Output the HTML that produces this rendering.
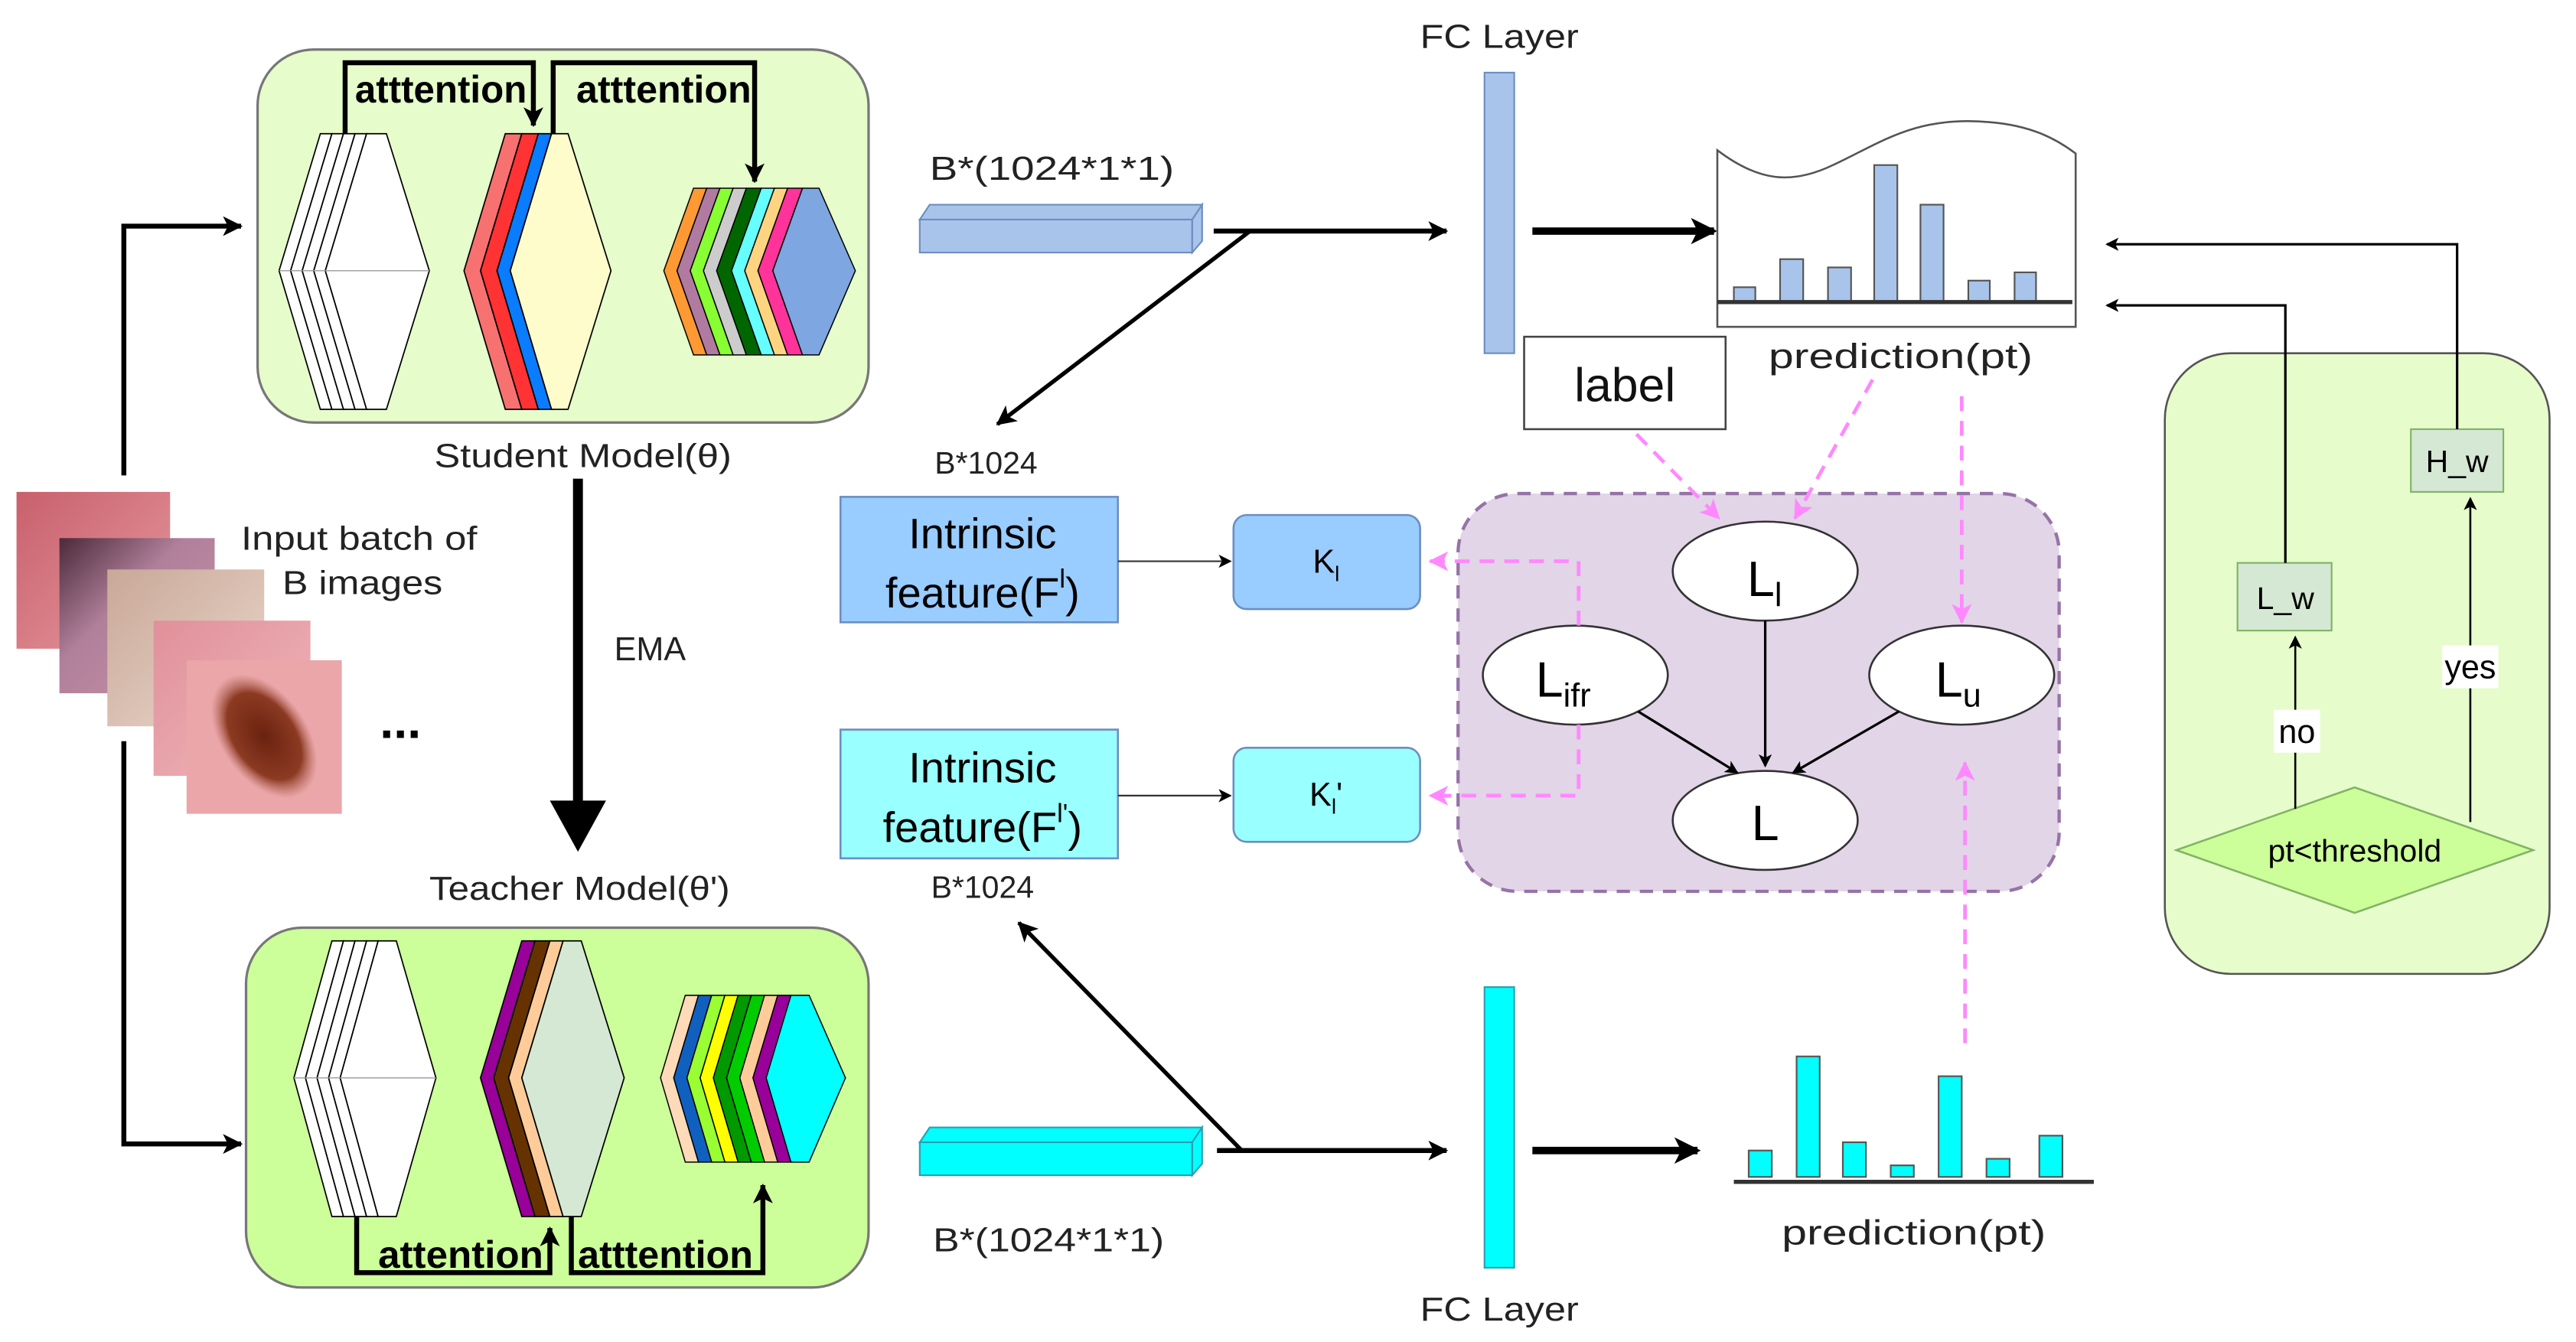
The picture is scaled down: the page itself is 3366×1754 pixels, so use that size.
<!DOCTYPE html>
<html><head><meta charset="utf-8"><style>html,body{margin:0;padding:0;background:#fff}svg{display:block}text{font-family:"Liberation Sans",sans-serif}</style></head><body>
<svg width="3366" height="1754" viewBox="0 0 1560 813" preserveAspectRatio="none" xmlns="http://www.w3.org/2000/svg">
<defs>
<marker id="ab" markerWidth="8" markerHeight="8" refX="7" refY="4" orient="auto" markerUnits="userSpaceOnUse"><path d="M0,0 L8,4 L0,8 L2,4z" fill="#000"/></marker>
<marker id="abig" markerWidth="16" markerHeight="16" refX="14" refY="8" orient="auto" markerUnits="userSpaceOnUse"><path d="M0,0 L16,8 L0,16 L4,8z" fill="#000"/></marker>
<marker id="ap" markerWidth="12" markerHeight="12" refX="11" refY="6" orient="auto" markerUnits="userSpaceOnUse"><path d="M0,0 L12,6 L0,12 L3,6z" fill="#f8f"/></marker>
<marker id="am" markerWidth="12" markerHeight="12" refX="11" refY="6" orient="auto" markerUnits="userSpaceOnUse"><path d="M0,0 L12,6 L0,12 L3,6z" fill="#000"/></marker>
<linearGradient id="sk1" x1="0" y1="0" x2="1" y2="1"><stop offset="0" stop-color="#c8606c"/><stop offset="1" stop-color="#e79aa0"/></linearGradient>
<linearGradient id="sk2" x1="0" y1="0" x2="1" y2="1"><stop offset="0" stop-color="#4a2a3a"/><stop offset="0.4" stop-color="#b07f9a"/><stop offset="1" stop-color="#c993a8"/></linearGradient>
<linearGradient id="sk3" x1="0" y1="0" x2="1" y2="1"><stop offset="0" stop-color="#c9a898"/><stop offset="1" stop-color="#ead8cc"/></linearGradient>
<linearGradient id="sk4" x1="0" y1="0" x2="1" y2="1"><stop offset="0" stop-color="#e0909a"/><stop offset="1" stop-color="#f1b8bc"/></linearGradient>
<radialGradient id="mole" cx="0.5" cy="0.5" r="0.5"><stop offset="0" stop-color="#6a2210"/><stop offset="0.7" stop-color="#8c3a22"/><stop offset="1" stop-color="#b06050" stop-opacity="0"/></radialGradient>
</defs>

<rect x="156" y="30" width="370" height="226" rx="34" fill="#e6fccb" stroke="#777" stroke-width="1.5"/>
<g stroke="#000" stroke-width="0.8" fill="#fff">
<polygon points="194,81 201,81 176,164 201,248 194,248 169,164"/>
<polygon points="201,81 208,81 183,164 208,248 201,248 176,164"/>
<polygon points="208,81 215,81 190,164 215,248 208,248 183,164"/>
<polygon points="215,81 222,81 197,164 222,248 215,248 190,164"/>
<polygon points="222,81 234,81 260,164 234,248 222,248 197,164"/>
</g>
<line x1="169" y1="164" x2="260" y2="164" stroke="#999" stroke-width="0.6"/>
<g stroke="#000" stroke-width="0.8">
<polygon fill="#f87171" points="306,81 316,81 291,164 316,248 306,248 281,164"/>
<polygon fill="#f33" points="316,81 326,81 301,164 326,248 316,248 291,164"/>
<polygon fill="#0a7cff" points="326,81 334,81 309,164 334,248 326,248 301,164"/>
<polygon fill="#fffccc" points="334,81 344,81 370,164 344,248 334,248 309,164"/>
</g>
<g stroke="#000" stroke-width="0.7">
<polygon fill="#ff9933" points="420,114 428,114 410,164 428,215 420,215 402,164"/>
<polygon fill="#b07aa1" points="428,114 436,114 418,164 436,215 428,215 410,164"/>
<polygon fill="#88ff33" points="436,114 444,114 426,164 444,215 436,215 418,164"/>
<polygon fill="#ccc" points="444,114 452,114 434,164 452,215 444,215 426,164"/>
<polygon fill="#006600" points="452,114 461,114 443,164 461,215 452,215 434,164"/>
<polygon fill="#66ffff" points="461,114 469,114 451,164 469,215 461,215 443,164"/>
<polygon fill="#ffd480" points="469,114 477,114 459,164 477,215 469,215 451,164"/>
<polygon fill="#ff3399" points="477,114 486,114 468,164 486,215 477,215 459,164"/>
<polygon fill="#7ea6e0" points="486,114 496,114 518,164 496,215 486,215 468,164"/>
</g>
<g stroke="#000" stroke-width="3" fill="none">
<polyline points="209,81 209,38 323,38 323,76" marker-end="url(#am)"/>
<polyline points="335,81 335,38 457,38 457,110" marker-end="url(#am)"/>
</g>
<text x="215" y="62" font-size="23" font-weight="bold" textLength="104" lengthAdjust="spacingAndGlyphs">atttention</text>
<text x="349" y="62" font-size="23" font-weight="bold" textLength="106" lengthAdjust="spacingAndGlyphs">atttention</text>
<text x="353" y="283" font-size="20" text-anchor="middle" fill="#222" textLength="180" lengthAdjust="spacingAndGlyphs">Student Model(θ)</text>

<rect x="149" y="562" width="377" height="218" rx="34" fill="#ccff99" stroke="#777" stroke-width="1.5"/>
<g stroke="#000" stroke-width="0.8" fill="#fff">
<polygon points="201,570 208,570 185,653 208,737 201,737 178,653"/>
<polygon points="208,570 215,570 192,653 215,737 208,737 185,653"/>
<polygon points="215,570 222,570 199,653 222,737 215,737 192,653"/>
<polygon points="222,570 229,570 206,653 229,737 222,737 199,653"/>
<polygon points="229,570 240,570 264,653 240,737 229,737 206,653"/>
</g>
<line x1="178" y1="653" x2="264" y2="653" stroke="#999" stroke-width="0.6"/>
<g stroke="#000" stroke-width="0.8">
<polygon fill="#990099" points="316,570 324,570 299,653 324,737 316,737 291,653"/>
<polygon fill="#663300" points="324,570 333,570 308,653 333,737 324,737 299,653"/>
<polygon fill="#ffcc99" points="333,570 341,570 316,653 341,737 333,737 308,653"/>
<polygon fill="#d5e8d4" points="341,570 352,570 378,653 352,737 341,737 316,653"/>
</g>
<g stroke="#000" stroke-width="0.7">
<polygon fill="#ffdab9" points="415,603 423,603 408,653 423,704 415,704 400,653"/>
<polygon fill="#1060c0" points="423,603 431,603 416,653 431,704 423,704 408,653"/>
<polygon fill="#99ff33" points="431,603 439,603 424,653 439,704 431,704 416,653"/>
<polygon fill="#ffff00" points="439,603 447,603 432,653 447,704 439,704 424,653"/>
<polygon fill="#009900" points="447,603 455,603 440,653 455,704 447,704 432,653"/>
<polygon fill="#00cc00" points="455,603 463,603 448,653 463,704 455,704 440,653"/>
<polygon fill="#ffcc99" points="463,603 471,603 456,653 471,704 463,704 448,653"/>
<polygon fill="#990099" points="471,603 479,603 464,653 479,704 471,704 456,653"/>
<polygon fill="#00ffff" points="479,603 490,603 512,653 490,704 479,704 464,653"/>
</g>
<g stroke="#000" stroke-width="3" fill="none">
<polyline points="216,737 216,771 333,771 333,744" marker-end="url(#am)"/>
<polyline points="346,737 346,771 462,771 462,718" marker-end="url(#am)"/>
</g>
<text x="229" y="768" font-size="23" font-weight="bold" textLength="100" lengthAdjust="spacingAndGlyphs">attention</text>
<text x="350" y="768" font-size="23" font-weight="bold" textLength="106" lengthAdjust="spacingAndGlyphs">atttention</text>
<text x="351" y="545" font-size="20" text-anchor="middle" fill="#222" textLength="182" lengthAdjust="spacingAndGlyphs">Teacher Model(θ')</text>

<polyline points="75,288 75,137 146,137" fill="none" stroke="#000" stroke-width="3" marker-end="url(#am)"/>
<polyline points="75,449 75,693 146,693" fill="none" stroke="#000" stroke-width="3" marker-end="url(#am)"/>

<rect x="10" y="298" width="93" height="95" fill="url(#sk1)"/>
<rect x="36" y="326" width="94" height="94" fill="url(#sk2)"/>
<rect x="65" y="345" width="95" height="95" fill="url(#sk3)"/>
<rect x="93" y="376" width="95" height="94" fill="url(#sk4)"/>
<rect x="113" y="400" width="94" height="93" fill="#eaa6a8"/>
<ellipse cx="160" cy="446" rx="26" ry="42" transform="rotate(-35 160 446)" fill="url(#mole)"/>
<text x="146" y="333" font-size="20" fill="#222" textLength="143" lengthAdjust="spacingAndGlyphs">Input batch of</text>
<text x="171" y="360" font-size="20" fill="#222" textLength="97" lengthAdjust="spacingAndGlyphs">B images</text>
<text x="230" y="447" font-size="30" font-weight="bold">...</text>

<line x1="350" y1="290" x2="350" y2="490" stroke="#000" stroke-width="6"/>
<polygon points="333,485 367,485 350,516" fill="#000"/>
<text x="372" y="400" font-size="20" fill="#222">EMA</text>

<text x="563" y="109" font-size="20" fill="#222" textLength="148" lengthAdjust="spacingAndGlyphs">B*(1024*1*1)</text>
<polygon points="557,133 722,133 722,153 557,153" fill="#a9c4eb" stroke="#6c8ebf"/>
<polygon points="557,133 563,124 728,124 722,133" fill="#a9c4eb" stroke="#6c8ebf"/>
<polygon points="722,133 728,124 728,146 722,153" fill="#a9c4eb" stroke="#6c8ebf"/>
<line x1="735" y1="140" x2="876" y2="140" stroke="#000" stroke-width="3" marker-end="url(#am)"/>
<line x1="757" y1="140" x2="604" y2="257" stroke="#000" stroke-width="2.5" marker-end="url(#am)"/>
<text x="566" y="287" font-size="19" fill="#222">B*1024</text>
<text x="860" y="29" font-size="20" fill="#222" textLength="96" lengthAdjust="spacingAndGlyphs">FC Layer</text>
<rect x="899" y="44" width="18" height="170" fill="#a9c4eb" stroke="#6c8ebf"/>
<line x1="928" y1="140" x2="1038" y2="140" stroke="#000" stroke-width="4.5" marker-end="url(#abig)"/>

<path d="M1040,91 C1065,110 1085,112 1110,100 C1140,86 1160,70 1205,74 C1230,76 1245,84 1257,93 L1257,198 L1040,198 Z" fill="#fff" stroke="#555" stroke-width="1.2"/>
<g fill="#a9c4eb" stroke="#555" stroke-width="1">
<rect x="1050" y="174" width="13" height="9"/>
<rect x="1078" y="157" width="14" height="26"/>
<rect x="1107" y="162" width="14" height="21"/>
<rect x="1135" y="100" width="14" height="83"/>
<rect x="1163" y="124" width="14" height="59"/>
<rect x="1192" y="170" width="13" height="13"/>
<rect x="1220" y="165" width="13" height="18"/>
</g>
<line x1="1040" y1="183" x2="1255" y2="183" stroke="#333" stroke-width="2.5"/>
<text x="1151" y="223" font-size="21" text-anchor="middle" fill="#222" textLength="160" lengthAdjust="spacingAndGlyphs">prediction(pt)</text>
<rect x="923" y="204" width="122" height="56" fill="#fff" stroke="#444" stroke-width="1.2"/>
<text x="984" y="243" font-size="29" text-anchor="middle" fill="#111">label</text>

<rect x="1311" y="214" width="233" height="376" rx="40" fill="#e6fccb" stroke="#555" stroke-width="1.2"/>
<rect x="1460" y="260" width="56" height="38" fill="#d5e8d4" stroke="#82b366"/>
<text x="1488" y="286" font-size="19" text-anchor="middle">H_w</text>
<rect x="1355" y="341" width="57" height="41" fill="#d5e8d4" stroke="#82b366"/>
<text x="1384" y="369" font-size="19" text-anchor="middle">L_w</text>
<polyline points="1488,260 1488,148 1276,148" fill="none" stroke="#000" stroke-width="1.5" marker-end="url(#ab)"/>
<polyline points="1384,341 1384,185 1276,185" fill="none" stroke="#000" stroke-width="1.5" marker-end="url(#ab)"/>
<polygon points="1318,515 1426,477 1534,515 1426,553" fill="#ccff99" stroke="#82b366" stroke-width="1.2"/>
<text x="1426" y="522" font-size="19" text-anchor="middle">pt&lt;threshold</text>
<line x1="1390" y1="490" x2="1390" y2="386" stroke="#000" stroke-width="1.2" marker-end="url(#ab)"/>
<line x1="1496" y1="498" x2="1496" y2="302" stroke="#000" stroke-width="1.2" marker-end="url(#ab)"/>
<rect x="1377" y="430" width="28" height="26" fill="#fff"/>
<text x="1391" y="450" font-size="20" text-anchor="middle">no</text>
<rect x="1479" y="391" width="34" height="26" fill="#fff"/>
<text x="1496" y="411" font-size="20" text-anchor="middle">yes</text>

<rect x="883" y="299" width="364" height="241" rx="36" fill="#e1d5e7" stroke="#9673a6" stroke-width="2" stroke-dasharray="8,6"/>
<g fill="#fff" stroke="#333" stroke-width="1.2">
<ellipse cx="1069" cy="346" rx="56" ry="30"/>
<ellipse cx="954" cy="409" rx="56" ry="30"/>
<ellipse cx="1188" cy="409" rx="56" ry="30"/>
<ellipse cx="1069" cy="497" rx="56" ry="30"/>
</g>
<text x="1058" y="361" font-size="30">L<tspan font-size="20" dy="6">l</tspan></text>
<text x="930" y="422" font-size="30">L<tspan font-size="20" dy="6">ifr</tspan></text>
<text x="1172" y="422" font-size="30">L<tspan font-size="20" dy="6">u</tspan></text>
<text x="1069" y="509" font-size="30" text-anchor="middle">L</text>
<g stroke="#000" stroke-width="1.5">
<line x1="1069" y1="376" x2="1069" y2="464" marker-end="url(#ab)"/>
<line x1="992" y1="431" x2="1052" y2="468" marker-end="url(#ab)"/>
<line x1="1150" y1="431" x2="1086" y2="468" marker-end="url(#ab)"/>
</g>
<g stroke="#f8f" stroke-width="2.2" fill="none" stroke-dasharray="9,6">
<line x1="991" y1="263" x2="1041" y2="314" marker-end="url(#ap)"/>
<line x1="1134" y1="230" x2="1087" y2="314" marker-end="url(#ap)"/>
<line x1="1188" y1="240" x2="1188" y2="377" marker-end="url(#ap)"/>
<line x1="1190" y1="632" x2="1190" y2="462" marker-end="url(#ap)"/>
<polyline points="956,379 956,340 866,340" marker-end="url(#ap)"/>
<polyline points="956,439 956,482 866,482" marker-end="url(#ap)"/>
</g>

<rect x="509" y="301" width="168" height="76" fill="#99ccff" stroke="#6c8ebf" stroke-width="1.2"/>
<text x="595" y="332" font-size="26" text-anchor="middle">Intrinsic</text>
<text x="595" y="368" font-size="26" text-anchor="middle">feature(F<tspan font-size="16" dy="-12">l</tspan><tspan dy="12">)</tspan></text>
<rect x="509" y="442" width="168" height="78" fill="#99ffff" stroke="#6c8ebf" stroke-width="1.2"/>
<text x="595" y="474" font-size="26" text-anchor="middle">Intrinsic</text>
<text x="595" y="510" font-size="26" text-anchor="middle">feature(F<tspan font-size="16" dy="-12">l'</tspan><tspan dy="12">)</tspan></text>
<text x="595" y="544" font-size="19" text-anchor="middle" fill="#222">B*1024</text>
<line x1="677" y1="340" x2="745" y2="340" stroke="#333" stroke-width="1" marker-end="url(#ab)"/>
<line x1="677" y1="482" x2="745" y2="482" stroke="#333" stroke-width="1" marker-end="url(#ab)"/>
<rect x="747" y="312" width="113" height="57" rx="8" fill="#99ccff" stroke="#6c8ebf" stroke-width="1.2"/>
<text x="795" y="347" font-size="20">K<tspan font-size="13" dy="5">l</tspan></text>
<rect x="747" y="453" width="113" height="57" rx="8" fill="#99ffff" stroke="#6c8ebf" stroke-width="1.2"/>
<text x="793" y="488" font-size="20">K<tspan font-size="13" dy="5">l</tspan><tspan dy="-5">'</tspan></text>

<polygon points="557,692 722,692 722,712 557,712" fill="#00ffff" stroke="#2a9fb0"/>
<polygon points="557,692 563,683 728,683 722,692" fill="#00ffff" stroke="#2a9fb0"/>
<polygon points="722,692 728,683 728,705 722,712" fill="#00ffff" stroke="#2a9fb0"/>
<text x="565" y="758" font-size="20" fill="#222" textLength="140" lengthAdjust="spacingAndGlyphs">B*(1024*1*1)</text>
<line x1="737" y1="697" x2="876" y2="697" stroke="#000" stroke-width="3" marker-end="url(#am)"/>
<line x1="752" y1="697" x2="617" y2="559" stroke="#000" stroke-width="2.5" marker-end="url(#am)"/>
<rect x="899" y="598" width="18" height="170" fill="#00ffff" stroke="#2a9fb0"/>
<text x="860" y="800" font-size="20" fill="#222" textLength="96" lengthAdjust="spacingAndGlyphs">FC Layer</text>
<line x1="928" y1="697" x2="1028" y2="697" stroke="#000" stroke-width="4.5" marker-end="url(#abig)"/>
<g fill="#00ffff" stroke="#555" stroke-width="1">
<rect x="1059" y="697" width="14" height="16"/>
<rect x="1088" y="640" width="14" height="73"/>
<rect x="1116" y="692" width="14" height="21"/>
<rect x="1145" y="706" width="14" height="7"/>
<rect x="1174" y="652" width="14" height="61"/>
<rect x="1203" y="702" width="14" height="11"/>
<rect x="1235" y="688" width="14" height="25"/>
</g>
<line x1="1050" y1="716" x2="1268" y2="716" stroke="#333" stroke-width="2.5"/>
<text x="1159" y="754" font-size="21" text-anchor="middle" fill="#222" textLength="160" lengthAdjust="spacingAndGlyphs">prediction(pt)</text>
</svg>
</body></html>
